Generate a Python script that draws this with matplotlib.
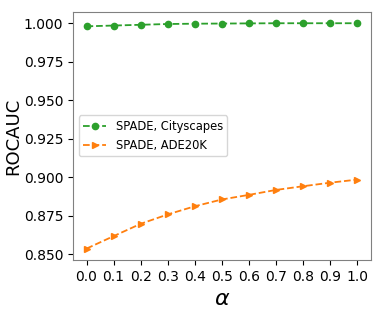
import matplotlib
matplotlib.use("Agg")
import matplotlib.pyplot as plt

# alpha values on the x axis
alphas = [0.0, 0.1, 0.2, 0.3, 0.4, 0.5, 0.6, 0.7, 0.8, 0.9, 1.0]

# ROCAUC for each dataset
cityscapes = [0.9980, 0.9985, 0.9990, 0.9995, 0.9997, 0.9998,
              0.9999, 1.0000, 1.0000, 1.0000, 1.0000]
ade20k = [0.8537, 0.8618, 0.8698, 0.8759, 0.8812, 0.8856,
          0.8886, 0.8918, 0.8942, 0.8965, 0.8985]

y_ticks = [0.850, 0.875, 0.900, 0.925, 0.950, 0.975, 1.000]

fig = plt.figure(figsize=(3.82, 3.15), dpi=100)
ax = fig.add_axes([0.191, 0.175, 0.780, 0.787])

ax.plot(alphas, cityscapes, linestyle="--", marker="o", markersize=4.5,
        linewidth=1.3, color="tab:green", label="SPADE, Cityscapes")
ax.plot(alphas, ade20k, linestyle="--", marker=">", markersize=4.5,
        linewidth=1.3, color="tab:orange", label="SPADE, ADE20K")

ax.set_xticks(alphas)
ax.set_xticklabels([f"{a:.1f}" for a in alphas], fontsize=10)
ax.set_yticks(y_ticks)
ax.set_yticklabels([f"{t:.3f}" for t in y_ticks], fontsize=10)

for spine in ax.spines.values():
    spine.set_color("gray")

ax.set_xlabel(r"$\alpha$", fontsize=16)
ax.set_ylabel("ROCAUC", fontsize=13, labelpad=1)
ax.legend(loc="center left", fontsize=8.3)

fig.savefig("out.png", dpi=100)
